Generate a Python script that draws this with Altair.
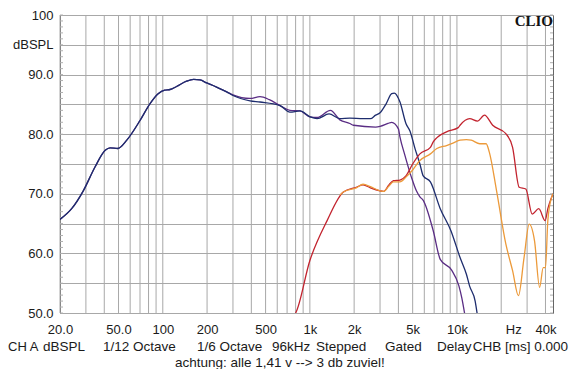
import altair as alt
import pandas as pd

# ---------------- data ----------------
blue_f = [20, 24, 28.8, 34.6, 40.6, 43.8, 49.4, 56.9, 70, 81.7, 93, 103, 112, 124, 145, 162, 179, 199,
          232, 272, 300, 392, 458, 627, 732, 857, 1004, 1120, 1350, 1600, 1870, 2300, 2580, 2800,
          3000, 3300, 3600, 3750, 4100, 4500, 4800, 5200, 5600, 5900, 6600, 7700, 9100, 10500,
          11600, 12200, 13300, 13800]
blue_db = [65.7, 67.5, 70.5, 74.5, 77.3, 77.7, 77.6, 79.0, 82.3, 85.1, 86.8, 87.4, 87.5, 88.0, 88.9, 89.2, 89.1, 88.6,
           87.9, 87.1, 86.5, 85.6, 85.4, 84.8, 83.7, 83.9, 82.9, 82.6, 83.4, 82.6, 82.7, 82.6, 82.6, 83.2,
           83.6, 85.1, 86.8, 86.9, 85.4, 81.8, 80.5, 77.5, 75.0, 73.0, 72.0, 67.5, 63.8, 59.3,
           56.5, 54.5, 52.0, 49.5]

purple_f = [20, 24, 28.8, 34.6, 40.6, 43.8, 49.4, 56.9, 70, 81.7, 93, 103, 112, 124, 145, 162, 179, 199,
            232, 272, 300, 392, 458, 530, 627, 732, 857, 1004, 1120, 1380, 1600, 1870, 1980, 2800,
            3000, 3400, 3600, 4000, 4100, 4400, 4900, 5300, 5600, 5900, 6900, 7700, 9200, 10300,
            10800, 11300]
purple_db = [65.7, 67.5, 70.5, 74.5, 77.3, 77.7, 77.6, 79.0, 82.3, 85.1, 86.8, 87.4, 87.5, 88.0, 88.9, 89.2, 89.1, 88.6,
             87.9, 87.1, 86.6, 86.0, 86.3, 85.8, 84.8, 84.0, 83.9, 82.9, 82.8, 84.0, 82.4, 81.8, 81.5, 81.2,
             81.3, 81.8, 82.0, 80.9, 79.5, 76.7, 72.8, 70.5, 69.5, 68.9, 63.8, 59.0, 57.2, 54.6,
             52.5, 49.8]

red_f = [770, 800, 1000, 1310, 1690, 2070, 2300, 2580, 3000, 3170, 3450, 3700, 4100, 4500, 5000, 5600,
         6600, 6900, 8500, 10200, 10500, 12200, 13800, 15400, 17500, 21500, 23900, 26500, 29400,
         32500, 36000, 39800, 41500, 44000, 45000]
red_db = [49.5, 50.0, 58.8, 65.5, 70.3, 71.1, 71.5, 71.0, 70.5, 70.4, 71.5, 72.2, 72.3, 73.0, 75.0, 76.7,
          77.8, 78.7, 80.4, 81.1, 81.5, 82.6, 82.2, 83.2, 81.5, 80.1, 77.8, 71.1, 70.8,
          66.6, 67.5, 65.5, 67.5, 69.4, 70.0]

orange_f = [1600, 1690, 2070, 2300, 2580, 3000, 3170, 3450, 3700, 4100, 4500, 5000, 5600, 6600, 7300,
            8500, 9400, 10500, 11600, 12500, 14300, 15800, 16600, 18600, 21500, 23900, 26200, 28600,
            31000, 33700, 36500, 38600, 40000, 41500, 44000, 45000]
orange_db = [69.8, 70.3, 71.0, 71.6, 71.2, 70.5, 70.4, 71.3, 72.0, 72.0, 72.8, 74.0, 75.6, 76.7, 77.6,
             78.1, 78.5, 79.0, 79.1, 79.0, 78.4, 78.4, 77.0, 70.5, 61.6, 57.1, 52.9, 59.3,
             64.9, 62.1, 54.3, 57.6, 57.6, 65.5, 69.4, 70.0]

grid_freqs = [20, 30, 40, 50, 60, 70, 80, 90, 100, 200, 300, 400, 500, 600, 700, 800, 900,
              1000, 2000, 3000, 4000, 5000, 6000, 7000, 8000, 9000, 10000, 20000, 30000, 40000]
x_label_vals = [20, 50, 100, 200, 500, 1000, 2000, 5000, 10000, 20000, 40000]
x_label_txt = ["20.0", "50.0", "100", "200", "500", "1k", "2k", "5k", "10k", "Hz", "40k"]
y_vals = [50, 55, 60, 65, 70, 75, 80, 85, 90, 95, 100]
y_label_txt = ["50.0", "", "60.0", "", "70.0", "", "80.0", "", "90.0", "dBSPL", "100"]
minor_db = list(range(50, 101))

footer1 = ["CH A", "dBSPL", "1/12 Octave", "1/6 Octave", "96kHz", "Stepped", "Gated", "Delay", "CHB [ms] 0.000"]
footer2 = ["achtung: alle 1,41 v --> 3 db zuviel!"]
brand = ["CLIO"]

# ---------------- helpers ----------------
def chain(vals, labs):
    expr = "''"
    for v, l in reversed(list(zip(vals, labs))):
        expr = f"datum.value == {v} ? '{l}' : ({expr})"
    return expr

W, H = 493, 298
FONT = "Liberation Sans"
x_scale = alt.Scale(type="log", domain=[20, 45000], nice=False)
y_scale = alt.Scale(domain=[50, 100], nice=False, zero=False)

x_axis = alt.Axis(values=x_label_vals, labelExpr=chain(x_label_vals, x_label_txt), grid=False,
                  ticks=False, domain=False, title=None, labelPadding=10, labelFont=FONT,
                  labelFontSize=13, labelColor="#1a1a1a", labelFlush=False, labelOverlap=False,
                  labelOffset={"condition": {"test": "datum.value == 20000", "value": 12}, "value": 0})
y_axis = alt.Axis(values=y_vals, labelExpr=chain(y_vals, y_label_txt), grid=True, gridColor="#a8a8a8",
                  gridWidth=1, ticks=False, domain=False, title=None, labelPadding=7, labelFont=FONT,
                  labelFontSize=13, labelColor="#1a1a1a", labelFlush=False, labelOverlap=False)

X = alt.X("f:Q", scale=x_scale, axis=x_axis)
Y = alt.Y("db:Q", scale=y_scale, axis=y_axis)

vgrid = alt.Chart(pd.DataFrame({"f": grid_freqs})).mark_rule(color="#a8a8a8", strokeWidth=1).encode(x=X)

minor_df = pd.DataFrame({"db": minor_db})
minor_l = alt.Chart(minor_df).mark_rule(color="#b0b0b0", strokeWidth=1).encode(
    y=Y, x=alt.value(0), x2=alt.value(3))
minor_r = alt.Chart(minor_df).mark_rule(color="#b0b0b0", strokeWidth=1).encode(
    y=Y, x=alt.value(W - 3), x2=alt.value(W))

def curve(fs, ds, color):
    d = pd.DataFrame({"f": fs, "db": ds})
    return alt.Chart(d).mark_line(color=color, strokeWidth=1.3, clip=True,
                                  interpolate="monotone").encode(x=X, y=Y)

purple = curve(purple_f, purple_db, "#5a2d84")
blue = curve(blue_f, blue_db, "#1e2d6e")
red = curve(red_f, red_db, "#c2232e")
orange = curve(orange_f, orange_db, "#ec9a3a")

def label(txt, x, y, size=13.5, align="left", font=FONT, weight="normal", color="#1a1a1a"):
    return alt.Chart(pd.DataFrame({"t": [txt]})).mark_text(
        font=font, fontSize=size, align=align, baseline="middle", fontWeight=weight, color=color
    ).encode(text="t:N", x=alt.value(x), y=alt.value(y))

foot_x = [-52, -17, 43, 137, 212, 256, 325, 377]
foot_size = [13, 13.5, 13.5, 13.5, 13.5, 13.5, 13.5, 13.5]
texts = [label(t, xx, 332, size=s) for t, xx, s in zip(footer1[:-1], foot_x, foot_size)]
texts.append(label(footer1[-1], 508, 332, align="right"))
texts.append(label(footer2[0], 115, 348))
clio = alt.Chart(pd.DataFrame({"t": brand})).mark_text(
    font="Liberation Serif", fontSize=15, fontWeight="bold", align="right", baseline="alphabetic",
    color="#111111").encode(text="t:N", x=alt.value(W), y=alt.value(11))

chart = alt.layer(vgrid, minor_l, minor_r, purple, blue, red, orange, clio, *texts).properties(
    width=W, height=H,
    padding={"left": 52, "top": 7, "right": 19, "bottom": 56},
    autosize=alt.AutoSizeParams(type="none"),
    background="white",
).configure_view(stroke="#666666", strokeWidth=1)

chart.save("out.html", embed_options={"renderer": "svg", "actions": False})
